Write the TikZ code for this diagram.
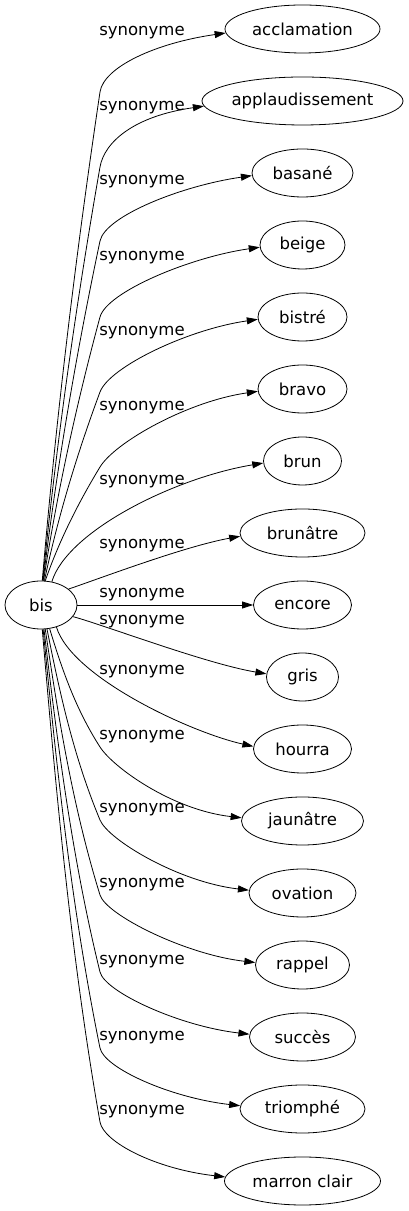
\documentclass[tikz,border=0pt]{standalone}
\usepackage{fontspec}
\setmainfont{DejaVu Sans}
\usetikzlibrary{shapes.geometric}
\usetikzlibrary{arrows.meta}
\usetikzlibrary{calc}
\newcommand{\wordFont}{\fontsize{16.5pt}{20pt}\selectfont}
\tikzset{
    word/.style={
        draw, ellipse, line width=0.8pt,
        minimum height=48pt, minimum width=#1,
        inner sep=0pt, font=\wordFont
    },
    word/.default=90pt,
    syn/.style={line width=0.8pt, -{Triangle[length=11pt,width=7pt]}},
    synlabel/.style={font=\wordFont, inner sep=0pt}
}
% edge above bis: steep rise, bend under the label, then into the target
\newcommand{\upEdge}[3] {
	\draw[syn] let \p1 = (bis.#1), \p2 = (100,#3-59), \n1 = {\y2-\y1}, \n2 = {\x2-\x1} in
		(\p1) .. controls +(0.24*\n2, \n1/3) and +(-0.42*\n2, -\n1/3) .. (\p2)
		.. controls +(31.8*\n2/\n1, 25pt) and +(-70pt,-10pt) .. (#2.183);
	\node[synlabel] at (142,#3) {synonyme};
}
% edge below bis
\newcommand{\downEdge}[3] {
	\draw[syn] let \p1 = (bis.#1), \p2 = (100,#3-10), \n1 = {\y1-\y2}, \n2 = {\x2-\x1} in
		(\p1) .. controls +(0.24*\n2, -\n1/3) and +(-0.5*\n2, \n1/3) .. (\p2)
		.. controls +(30*\n2/\n1, -20pt) and +(-70pt,8pt) .. (#2.177);
	\node[synlabel] at (142,#3) {synonyme};
}
\begin{document}
\begin{tikzpicture}[x=1pt,y=1pt]
		\useasboundingbox (0,0) rectangle (408,1211);

		% source word
		\node[word=72pt] (bis) at (41,606) {bis};

		% synonyms
		\node[word=155pt] (acclamation) at (302.5,1182) {acclamation};
		\node[word=201pt] (applaudissement) at (302.5,1110) {applaudissement};
		\node[word=101pt] (basane) at (302.5,1038) {basané};
		\node[word=85pt] (beige) at (302.5,966) {beige};
		\node[word=89pt] (bistre) at (302.5,894) {bistré};
		\node[word=89pt] (bravo) at (302.5,822) {bravo};
		\node[word=78pt] (brun) at (302.5,750) {brun};
		\node[word=125pt] (brunatre) at (302.5,678) {brunâtre};
		\node[word=98pt] (encore) at (302.5,606) {encore};
		\node[word=72pt] (gris) at (302.5,534) {gris};
		\node[word=98pt] (hourra) at (302.5,462) {hourra};
		\node[word=122pt] (jaunatre) at (302.5,390) {jaunâtre};
		\node[word=107pt] (ovation) at (302.5,318) {ovation};
		\node[word=94pt] (rappel) at (302.5,246) {rappel};
		\node[word=106pt] (succes) at (302.5,174) {succès};
		\node[word=125pt] (triomphe) at (302.5,102) {triomphé};
		\node[word=156pt] (marron) at (302.5,30) {marron clair};

		% upper edges
		\upEdge{87}{acclamation}{1178}
		\upEdge{86}{applaudissement}{1103}
		\upEdge{85}{basane}{1029}
		\upEdge{84}{beige}{953}
		\upEdge{82}{bistre}{878}
		\upEdge{80}{bravo}{803}

		\draw[syn] (bis.65) .. controls +(15,50) and +(-90,-15) .. (brun.183);
		\node[synlabel] at (142,729) {synonyme};

		\draw[syn] (bis.30) .. controls +(35,12) and +(-55,-10) .. (brunatre.183);
		\node[synlabel] at (142,665) {synonyme};

		% straight edge
		\draw[syn] (bis) -- (encore);
		\node[synlabel] at (142,616) {synonyme};

		% lower edges
		\draw[syn] (bis.-20) .. controls +(30,-8) and +(-60,10) .. (gris.175);
		\node[synlabel] at (142,589) {synonyme};

		\draw[syn] (bis.-55) .. controls +(15,-50) and +(-63,14) .. (hourra.177);
		\node[synlabel] at (142,539) {synonyme};

		\downEdge{-70}{jaunatre}{474}
		\downEdge{-76}{ovation}{401}
		\downEdge{-80}{rappel}{326}
		\downEdge{-83}{succes}{249}
		\downEdge{-85}{triomphe}{173}
		\downEdge{-87}{marron}{99}

	\end{tikzpicture}
\end{document}
